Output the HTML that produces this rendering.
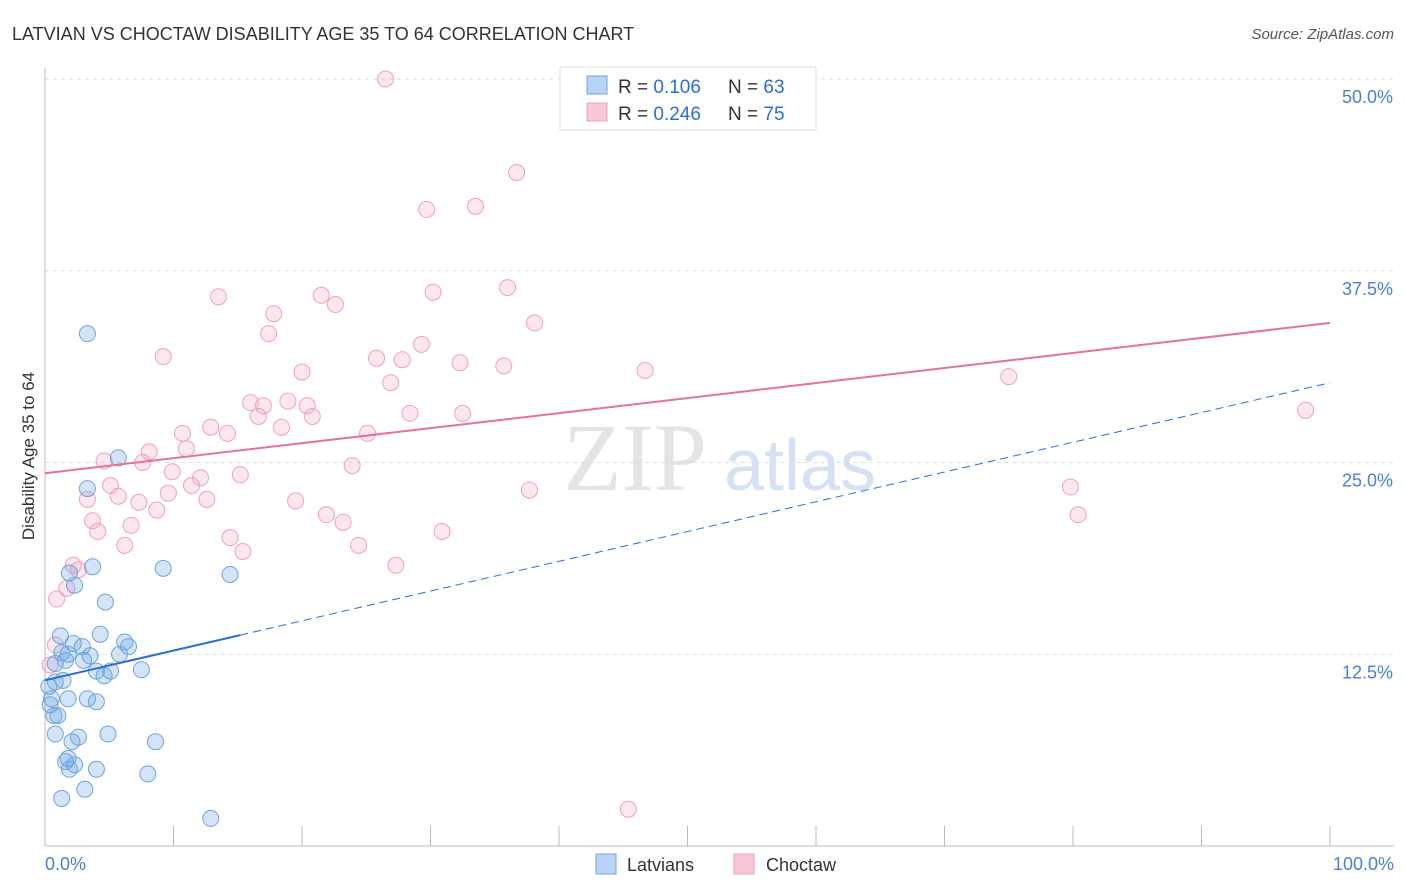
<!DOCTYPE html>
<html><head><meta charset="utf-8"><style>
body{margin:0;background:#fff;font-family:"Liberation Sans",sans-serif}
svg{display:block}
</style></head><body>
<svg id="c" width="1406" height="892" xmlns="http://www.w3.org/2000/svg">
<text x="12" y="40" font-size="18" fill="#333">LATVIAN VS CHOCTAW DISABILITY AGE 35 TO 64 CORRELATION CHART</text>
<text x="1394" y="39" font-size="15" fill="#555" font-style="italic" text-anchor="end">Source: ZipAtlas.com</text>
<text x="34" y="456" font-size="17" fill="#333" text-anchor="middle" transform="rotate(-90 34 456)">Disability Age 35 to 64</text>
<text x="635" y="490" font-size="96" fill="#e4e4e4" font-family="Liberation Serif,serif" text-anchor="middle">ZIP</text>
<text x="800" y="490" font-size="72" fill="#d4e2f4" text-anchor="middle">atlas</text>
<g id="grid"></g><g id="pts"></g><g id="lines"></g>
<g>
<rect x="560" y="67" width="256" height="63" fill="#fff" stroke="#ddd"/>
<rect x="587" y="76" width="20" height="18" fill="#b8d4f5" stroke="#6fa3e0"/>
<rect x="587" y="103" width="20" height="18" fill="#f9c8d7" stroke="#f0a0bc"/>
<text x="618" y="93" font-size="19" fill="#333">R = <tspan fill="#2a6fd6">0.106</tspan><tspan x="728">N = </tspan><tspan fill="#2a6fd6">63</tspan></text>
<text x="618" y="120" font-size="19" fill="#333">R = <tspan fill="#2a6fd6">0.246</tspan><tspan x="728">N = </tspan><tspan fill="#2a6fd6">75</tspan></text>
</g>
<g>
<rect x="596" y="854" width="20" height="20" fill="#b8d4f5" stroke="#6fa3e0"/>
<text x="627" y="871" font-size="18" fill="#333">Latvians</text>
<rect x="734" y="854" width="20" height="20" fill="#f9c8d7" stroke="#f0a0bc"/>
<text x="766" y="871" font-size="18" fill="#333">Choctaw</text>
</g>
<text x="45" y="870" font-size="18" fill="#4a7fd4">0.0%</text>
<text x="1394" y="870" font-size="18" fill="#4a7fd4" text-anchor="end">100.0%</text>
</svg>
<script>
const yTicks=[12.5,25,37.5,50];
const yTickLabels=["12.5%","25.0%","37.5%","50.0%"];
const blueX=[3.3,5.7,3.3,3.7,9.2,14.4,1.9,2.3,4.7,1.2,4.3,2.2,6.2,2.9,6.5,1.3,1.8,3.5,5.8,0.8,1.6,3.0,4.0,5.1,4.6,7.5,0.8,1.4,0.3,1.8,3.3,4.0,0.5,0.4,0.7,1.0,0.8,2.6,4.9,2.1,8.6,1.8,1.6,2.3,1.9,4.0,8.0,3.1,1.3,12.9];
const blueY=[33.4,25.3,23.3,18.2,18.1,17.7,17.8,17.0,15.9,13.7,13.8,13.2,13.3,13.0,13.0,12.6,12.5,12.4,12.5,11.9,12.1,12.1,11.4,11.4,11.1,11.5,10.7,10.8,10.4,9.6,9.6,9.4,9.6,9.2,8.5,8.5,7.3,7.1,7.3,6.8,6.8,5.7,5.5,5.3,5.0,5.0,4.7,3.7,3.1,1.8];
const pinkX=[26.5,36.7,29.7,33.5,13.5,21.5,22.6,30.2,36.0,17.8,17.4,38.1,9.2,29.3,25.8,27.8,32.3,35.7,46.7,20.0,26.9,75.0,16.0,17.0,18.9,20.4,28.4,32.5,16.6,20.8,98.1,10.7,12.9,14.2,18.4,25.1,8.1,11.0,4.6,7.6,23.9,9.9,12.1,15.2,5.1,11.4,3.3,5.7,7.3,9.6,12.6,8.7,19.5,37.7,79.8,3.7,4.1,6.7,21.9,23.2,30.9,80.4,14.4,6.2,15.4,24.4,27.3,2.2,2.6,1.7,0.9,45.4,0.8,0.4];
const pinkY=[50.0,43.9,41.5,41.7,35.8,35.9,35.3,36.1,36.4,34.7,33.4,34.1,31.9,32.7,31.8,31.7,31.5,31.3,31.0,30.9,30.2,30.6,28.9,28.7,29.0,28.7,28.2,28.2,28.0,28.0,28.4,26.9,27.3,26.9,27.3,26.9,25.7,25.9,25.1,25.0,24.8,24.4,24.0,24.2,23.5,23.5,22.6,22.8,22.4,23.0,22.6,21.9,22.5,23.2,23.4,21.2,20.5,20.9,21.6,21.1,20.5,21.6,20.1,19.6,19.2,19.6,18.3,18.3,18.0,16.8,16.1,2.4,13.1,11.8];
const blueTrend=[10.8,30.2];
const pinkTrend=[24.3,34.1];
const NS="http://www.w3.org/2000/svg";
const xs=v=>45+v*12.85, ys=v=>846-v*15.34;
function mk(t,a,p){const e=document.createElementNS(NS,t);for(const k in a)e.setAttribute(k,a[k]);p.appendChild(e);return e;}
const grid=document.getElementById('grid');
yTicks.forEach((t,i)=>{
 const l=mk('line',{x1:45,x2:1394,y1:ys(t),y2:ys(t),stroke:'#ddd','stroke-dasharray':'4,4'},grid);
 
 
 const tx=mk('text',{x:1393,y:ys(t)+24,'font-size':18,fill:'#4a7fd4','text-anchor':'end'},grid);
 tx.textContent=yTickLabels[i];
 
 
});
const ax=mk('line',{x1:45,x2:45,y1:68,y2:846,stroke:'#bbb'},grid);


const bx=mk('line',{x1:45,x2:1394,y1:846,y2:846,stroke:'#bbb'},grid);


for(let i=0;i<=10;i++){const t=mk('line',{x1:xs(i*10),x2:xs(i*10),y1:826,y2:846,stroke:'#bbb'},grid);
 
 }
const pts=document.getElementById('pts');
pinkX.forEach((x,i)=>{const c=mk('circle',{cx:xs(x),cy:ys(pinkY[i]),r:8,fill:'rgba(244,160,190,0.25)',stroke:'#f0a0bc','stroke-width':1},pts);
 
 });
blueX.forEach((x,i)=>{const c=mk('circle',{cx:xs(x),cy:ys(blueY[i]),r:8,fill:'rgba(110,165,230,0.3)',stroke:'#6fa3e0','stroke-width':1},pts);
 
 });
const lines=document.getElementById('lines');
const bAt=v=>blueTrend[0]+(blueTrend[1]-blueTrend[0])*v/100;
const l1=mk('line',{x1:xs(0),y1:ys(bAt(0)),x2:xs(15.2),y2:ys(bAt(15.2)),stroke:'#2a6fd6','stroke-width':2},lines);


const l2=mk('line',{x1:xs(15.2),y1:ys(bAt(15.2)),x2:xs(100),y2:ys(bAt(100)),stroke:'#2a6fd6','stroke-width':1,'stroke-dasharray':'8,5'},lines);


const l3=mk('line',{x1:xs(0),y1:ys(pinkTrend[0]),x2:xs(100),y2:ys(pinkTrend[1]),stroke:'#e8719a','stroke-width':2},lines);


</script>
</body></html>
